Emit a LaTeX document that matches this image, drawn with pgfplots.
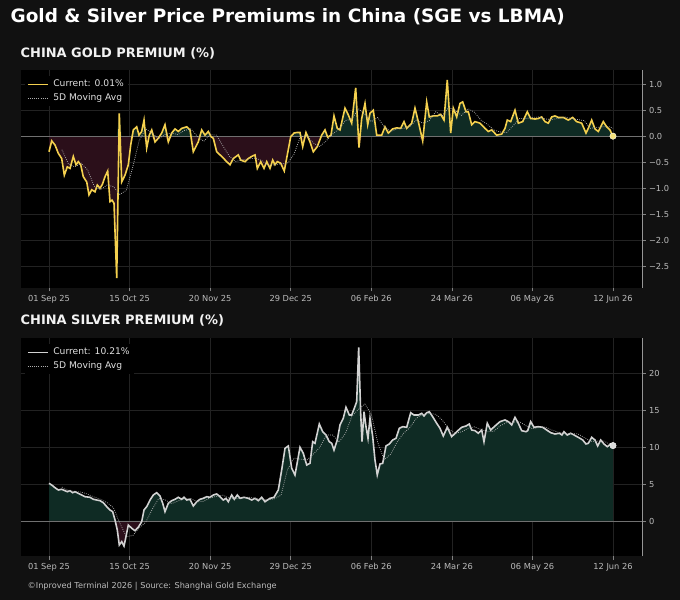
\documentclass[border=0pt]{standalone}
\usepackage{fontspec}
\setmainfont{DejaVu Sans}
\usepackage{xcolor}
\usepackage{pgfplots}
\usepackage{pgfplotstable}
\pgfplotsset{compat=1.18}
\definecolor{figbg}{HTML}{111111}
\definecolor{goldc}{HTML}{F4D04E}
\definecolor{goldm}{HTML}{F6E27A}
\definecolor{silvc}{HTML}{D2D2D2}
\definecolor{posfill}{HTML}{0F2B24}
\definecolor{negfill}{HTML}{2B0F1A}
\definecolor{gridc}{HTML}{222222}
\definecolor{zeroc}{HTML}{707070}
\definecolor{tickc}{HTML}{BBBBBB}
\definecolor{mac}{HTML}{AEAEAE}
\pagecolor{figbg}

\pgfplotstableread[row sep=\\]{
x y\\
0 -0.29\\ 0.84 -0.08\\ 1.86 -0.16\\ 2.89 -0.32\\ 3.94 -0.42\\ 4.75 -0.74\\ 5.68 -0.58\\ 6.52 -0.61\\ 7.54 -0.38\\ 8.38 -0.54\\ 9.09 -0.48\\ 9.84 -0.54\\ 10.64 -0.77\\ 11.70 -0.87\\ 12.41 -1.12\\ 13.25 -1.02\\ 14.27 -1.06\\ 14.99 -0.93\\ 15.82 -0.99\\ 16.54 -0.92\\ 17.38 -0.77\\ 18.21 -0.66\\ 18.93 -1.25\\ 19.55 -1.22\\ 20.17 -1.28\\ 21.01 -2.72\\ 21.81 0.45\\ 22.56 -0.87\\ 23.58 -0.74\\ 24.61 -0.54\\ 25.35 -0.16\\ 26.16 0.13\\ 27.21 0.19\\ 27.93 0.03\\ 28.76 0.10\\ 29.48 0.32\\ 30.31 -0.22\\ 31.12 0.03\\ 31.87 0.13\\ 32.89 -0.10\\ 33.91 -0.03\\ 34.97 0.07\\ 35.99 0.23\\ 37.02 -0.10\\ 38.07 0.07\\ 39.10 0.15\\ 40.12 0.10\\ 41.17 0.16\\ 42.73 0.19\\ 43.75 0.13\\ 44.77 -0.29\\ 46.32 -0.10\\ 47.38 0.13\\ 48.40 0.03\\ 49.43 0.10\\ 50.27 0.00\\ 50.98 -0.03\\ 52.03 -0.29\\ 53.58 -0.38\\ 55.14 -0.48\\ 56.16 -0.54\\ 57.18 -0.42\\ 58.74 -0.35\\ 59.48 -0.45\\ 60.81 -0.48\\ 61.84 -0.42\\ 62.89 -0.38\\ 63.92 -0.35\\ 64.63 -0.61\\ 65.69 -0.48\\ 66.71 -0.61\\ 67.55 -0.48\\ 68.57 -0.61\\ 69.41 -0.45\\ 70.12 -0.54\\ 70.84 -0.48\\ 71.89 -0.51\\ 73.00 -0.66\\ 73.94 -0.35\\ 75.00 0.00\\ 76.02 0.07\\ 76.86 0.08\\ 77.88 0.08\\ 78.72 -0.19\\ 79.74 0.08\\ 80.98 -0.10\\ 82.01 -0.29\\ 83.25 -0.19\\ 84.61 0.03\\ 85.64 0.13\\ 86.47 -0.01\\ 87.50 0.03\\ 88.43 0.40\\ 89.45 0.16\\ 90.29 0.13\\ 91.84 0.55\\ 92.87 0.42\\ 93.92 0.26\\ 95.16 0.94\\ 96.19 -0.21\\ 97.02 0.35\\ 98.05 0.64\\ 98.89 0.23\\ 99.60 0.45\\ 100.62 0.51\\ 101.68 0.03\\ 103.23 0.03\\ 104.25 0.19\\ 105.28 0.07\\ 106.64 0.15\\ 107.88 0.17\\ 109.12 0.16\\ 110.15 0.29\\ 110.99 0.16\\ 112.54 0.26\\ 113.56 0.55\\ 114.59 0.29\\ 115.95 -0.08\\ 117.19 0.67\\ 118.00 0.38\\ 119.24 0.40\\ 120.48 0.40\\ 121.53 0.43\\ 122.56 0.32\\ 123.58 1.09\\ 124.64 0.07\\ 125.45 0.55\\ 126.50 0.38\\ 127.52 0.64\\ 128.36 0.67\\ 129.39 0.48\\ 130.10 0.48\\ 131.15 0.23\\ 132.18 0.29\\ 133.73 0.26\\ 135.28 0.16\\ 136.30 0.10\\ 137.36 0.13\\ 138.91 0.03\\ 140.46 0.05\\ 141.49 0.16\\ 142.20 0.32\\ 143.26 0.29\\ 144.59 0.51\\ 145.62 0.26\\ 146.98 0.29\\ 148.41 0.48\\ 149.46 0.35\\ 150.80 0.34\\ 151.82 0.35\\ 152.87 0.38\\ 153.90 0.29\\ 154.92 0.26\\ 155.98 0.38\\ 157.00 0.40\\ 158.03 0.37\\ 159.58 0.37\\ 161.13 0.32\\ 162.49 0.37\\ 163.73 0.29\\ 165.29 0.26\\ 166.62 0.07\\ 167.33 0.16\\ 168.39 0.32\\ 169.41 0.15\\ 170.44 0.10\\ 171.99 0.29\\ 173.04 0.19\\ 174.06 0.13\\ 175 0.01\\
}\goldtbl

\pgfplotstableread[row sep=\\]{
x y\\
4 -0.25\\ 6 -0.52\\ 8 -0.58\\ 10 -0.51\\ 12 -0.64\\ 14 -0.95\\ 16 -1.02\\ 18 -0.93\\ 20 -0.96\\ 22 -1.11\\ 24 -1.03\\ 26 -0.58\\ 28 -0.07\\ 30 0.15\\ 32 0.07\\ 34 -0.04\\ 36 0.04\\ 38 0.07\\ 40 0.04\\ 42 0.12\\ 44 0.15\\ 46 0.01\\ 48 -0.09\\ 50 0.04\\ 52 0.03\\ 54 -0.18\\ 56 -0.38\\ 58 -0.48\\ 60 -0.44\\ 62 -0.43\\ 64 -0.41\\ 66 -0.46\\ 68 -0.55\\ 70 -0.54\\ 72 -0.52\\ 74 -0.51\\ 76 -0.34\\ 78 0.0\\ 80 0.02\\ 82 -0.12\\ 84 -0.19\\ 86 -0.08\\ 88 0.05\\ 90 0.15\\ 92 0.31\\ 94 0.34\\ 96 0.54\\ 98 0.43\\ 100 0.29\\ 102 0.37\\ 104 0.19\\ 106 0.10\\ 108 0.15\\ 110 0.16\\ 112 0.20\\ 114 0.32\\ 116 0.26\\ 118 0.31\\ 120 0.48\\ 122 0.40\\ 124 0.56\\ 126 0.51\\ 128 0.41\\ 130 0.54\\ 132 0.47\\ 134 0.32\\ 136 0.24\\ 138 0.13\\ 140 0.09\\ 142 0.08\\ 144 0.21\\ 146 0.35\\ 148 0.35\\ 150 0.37\\ 152 0.38\\ 154 0.34\\ 156 0.33\\ 158 0.35\\ 160 0.38\\ 162 0.35\\ 164 0.33\\ 166 0.31\\ 168 0.16\\ 170 0.18\\ 172 0.19\\ 174 0.19\\ 175 0.16\\
}\goldma

\pgfplotstableread[row sep=\\]{
x y\\
0 5.10\\ 0.84 4.87\\ 1.86 4.51\\ 2.89 4.20\\ 3.94 4.29\\ 4.96 4.10\\ 5.68 3.97\\ 6.52 4.10\\ 7.35 3.83\\ 8.07 3.97\\ 9.09 3.75\\ 10.15 3.52\\ 11.17 3.29\\ 12.72 3.21\\ 13.75 2.94\\ 14.80 2.84\\ 15.82 2.75\\ 16.85 2.48\\ 17.90 1.94\\ 18.93 1.49\\ 19.76 1.26\\ 20.48 0.14\\ 21.19 -1.22\\ 21.81 -3.25\\ 22.56 -2.80\\ 23.27 -3.39\\ 23.89 -2.12\\ 24.61 -0.54\\ 25.66 -0.99\\ 26.68 -1.31\\ 27.71 -0.85\\ 28.76 -0.09\\ 29.48 1.49\\ 30.31 1.94\\ 31.34 2.84\\ 32.36 3.52\\ 33.42 3.83\\ 34.44 3.39\\ 35.28 2.40\\ 35.99 1.26\\ 37.02 2.40\\ 38.07 2.75\\ 39.10 2.94\\ 40.12 3.21\\ 41.17 2.94\\ 41.89 3.21\\ 42.73 2.84\\ 43.75 2.94\\ 44.77 2.03\\ 45.83 2.61\\ 46.85 2.94\\ 47.88 3.07\\ 48.93 3.29\\ 49.95 3.21\\ 50.98 3.52\\ 52.03 3.66\\ 53.06 3.29\\ 54.08 2.84\\ 54.92 3.07\\ 55.63 2.61\\ 56.69 3.52\\ 57.50 2.94\\ 58.43 3.52\\ 59.26 3.07\\ 60.50 3.21\\ 61.84 3.07\\ 62.89 2.84\\ 63.92 3.07\\ 64.94 2.75\\ 66.00 3.21\\ 67.02 2.61\\ 68.57 3.07\\ 69.81 3.20\\ 71.15 4.20\\ 72.20 6.91\\ 73.23 9.84\\ 74.25 10.16\\ 75.31 7.13\\ 76.33 6.23\\ 77.88 9.98\\ 78.90 9.17\\ 79.96 7.58\\ 80.98 7.81\\ 81.82 10.74\\ 82.53 10.52\\ 83.87 13.13\\ 84.92 12.09\\ 85.95 11.65\\ 86.97 10.74\\ 87.72 10.52\\ 88.43 9.61\\ 89.45 10.97\\ 90.29 13.00\\ 91.31 13.91\\ 92.15 15.40\\ 93.18 14.35\\ 93.92 14.35\\ 94.73 15.26\\ 95.47 16.15\\ 96.09 23.52\\ 96.71 14.58\\ 97.12 10.74\\ 97.74 14.80\\ 98.36 12.77\\ 98.98 11.20\\ 99.60 13.91\\ 100.44 11.42\\ 101.15 8.26\\ 101.86 6.23\\ 102.70 7.72\\ 103.54 7.81\\ 104.56 10.16\\ 105.59 10.43\\ 106.64 10.97\\ 107.67 11.20\\ 108.69 12.55\\ 109.75 12.77\\ 110.99 12.69\\ 112.23 14.66\\ 113.25 14.35\\ 114.59 14.35\\ 115.64 14.58\\ 116.36 14.22\\ 117.19 14.66\\ 118.00 14.80\\ 119.05 14.12\\ 120.30 13.23\\ 121.32 12.55\\ 122.34 11.51\\ 123.58 12.69\\ 124.95 11.42\\ 126.50 12.09\\ 128.05 12.69\\ 129.39 12.86\\ 130.41 13.13\\ 131.15 12.32\\ 132.18 12.23\\ 133.20 11.88\\ 134.26 12.32\\ 134.97 10.74\\ 135.99 13.23\\ 137.05 12.32\\ 138.38 12.86\\ 139.94 13.45\\ 141.49 13.68\\ 142.51 13.45\\ 143.56 13.00\\ 144.59 14.04\\ 145.62 13.23\\ 146.67 12.23\\ 148.00 12.09\\ 148.53 12.23\\ 149.46 13.45\\ 150.49 12.69\\ 151.82 12.77\\ 153.18 12.69\\ 154.43 12.32\\ 155.67 11.96\\ 157.00 11.78\\ 158.34 11.88\\ 159.17 11.65\\ 159.79 12.09\\ 160.82 11.65\\ 161.87 11.88\\ 162.90 11.65\\ 164.23 11.33\\ 165.60 10.97\\ 166.62 10.43\\ 167.34 10.52\\ 168.39 11.33\\ 169.41 10.97\\ 170.25 10.16\\ 171.18 10.97\\ 172.20 10.43\\ 173.23 10.06\\ 174.28 10.43\\ 175 10.21\\
}\silvtbl

\pgfplotstableread[row sep=\\]{
x y\\
4 4.59\\ 6 4.14\\ 8 4.00\\ 10 3.91\\ 12 3.63\\ 14 3.24\\ 16 2.94\\ 18 2.50\\ 20 1.79\\ 22 -0.32\\ 24 -2.11\\ 26 -1.97\\ 28 -0.92\\ 30 -0.19\\ 32 1.55\\ 34 3.03\\ 36 2.88\\ 38 2.36\\ 40 2.70\\ 42 3.01\\ 44 3.03\\ 46 2.60\\ 48 2.66\\ 50 3.13\\ 52 3.34\\ 54 3.49\\ 56 3.09\\ 58 3.00\\ 60 3.13\\ 62 3.22\\ 64 3.05\\ 66 2.97\\ 68 2.86\\ 70 3.02\\ 72 3.49\\ 74 6.98\\ 76 8.51\\ 78 8.38\\ 80 8.24\\ 82 9.06\\ 84 9.96\\ 86 11.63\\ 88 11.63\\ 90 10.70\\ 92 11.87\\ 94 14.20\\ 96 15.10\\ 98 15.84\\ 100 14.50\\ 102 10.63\\ 104 8.29\\ 106 9.03\\ 108 10.69\\ 110 11.87\\ 112 12.67\\ 114 13.90\\ 116 14.49\\ 118 14.52\\ 120 14.45\\ 122 13.68\\ 124 12.50\\ 126 11.87\\ 128 12.07\\ 130 12.55\\ 132 12.75\\ 134 12.39\\ 136 12.08\\ 138 12.15\\ 140 12.88\\ 142 13.33\\ 144 13.38\\ 146 13.43\\ 148 12.90\\ 150 12.50\\ 152 12.65\\ 154 12.72\\ 156 12.32\\ 158 12.02\\ 160 11.85\\ 162 11.83\\ 164 11.82\\ 166 11.32\\ 168 10.81\\ 170 10.81\\ 172 10.86\\ 174 10.41\\ 175 10.43\\
}\silvma

\pgfplotsset{
  premium/.style={
    width=621bp, height=218bp, scale only axis,
    xmin=-8.69, xmax=184.0,
    axis background/.style={fill=black},
    axis line style={draw=none},
    xtick={0,25,50,75,100,125,150,175},
    xticklabels={01 Sep 25,15 Oct 25,20 Nov 25,29 Dec 25,06 Feb 26,24 Mar 26,06 May 26,12 Jun 26},
    xtick pos=left, ytick pos=right, yticklabel pos=right,
    tick align=outside, major tick length=3.5bp,
    tick style={draw=tickc!70!black, line width=0.6bp},
    ticklabel style={text=tickc, font=\fontsize{8.3}{10}\selectfont},
    grid=major, major grid style={draw=gridc, line width=0.5bp},
    legend cell align=left,
    legend style={at={(rel axis cs:0,1)}, anchor=north west, xshift=4bp, yshift=-6bp,
      draw=none, fill=black, text=white!88!black,
      font=\fontsize{9.2}{11}\selectfont, inner sep=2bp, row sep=1.2bp, column sep=2bp},
    legend image code/.code={\draw[##1] (0bp,0bp) -- (20.5bp,0bp);},
    after end axis/.code={\draw[tickc!80!black, line width=0.8bp] (rel axis cs:1,0) -- (rel axis cs:1,1);},
  },
  mainline/.style={line width=1.6bp},
  maline/.style={mac, line width=0.75bp, dash pattern=on 0.8bp off 1.3bp},
  posarea/.style={fill=posfill, draw=none, forget plot, y filter/.expression={max(y,0)}},
  negarea/.style={fill=negfill, draw=none, forget plot, y filter/.expression={min(y,0)}},
}

\begin{document}
\begin{tikzpicture}
\path (0,0) rectangle (680bp,600bp);
\node[anchor=base west, inner sep=0, text=white, font=\bfseries\fontsize{18.5}{20}\selectfont] at (10.5bp,577.3bp) {Gold \& Silver Price Premiums in China (SGE vs LBMA)};
\node[anchor=base west, inner sep=0, text=white!95!black, font=\bfseries\fontsize{13}{15}\selectfont] at (20.5bp,542.7bp) {CHINA GOLD PREMIUM (\%)};
\node[anchor=base west, inner sep=0, text=white!95!black, font=\bfseries\fontsize{13}{15}\selectfont] at (20.5bp,275bp) {CHINA SILVER PREMIUM (\%)};
\node[anchor=base west, inner sep=0, text=tickc, font=\fontsize{8.2}{10}\selectfont] at (27.5bp,11.7bp) {©Inproved Terminal 2026 | Source: Shanghai Gold Exchange};

% ---------------- GOLD ----------------
\begin{axis}[premium, at={(21bp,312bp)}, anchor=south west,
  ymin=-2.91, ymax=1.283,
  ytick={-2.5,-2,-1.5,-1,-0.5,0,0.5,1},
  yticklabels={−2.5,−2.0,−1.5,−1.0,−0.5,0.0,0.5,1.0}]
\addplot[posarea] table {\goldtbl} \closedcycle;
\addplot[negarea] table {\goldtbl} \closedcycle;
\addplot[zeroc, line width=0.8bp, forget plot] coordinates {(-8.69,0) (184,0)};
\addplot[goldc, mainline] table {\goldtbl};
\addlegendentry{Current: 0.01\%}
\addplot[maline] table {\goldma};
\addlegendentry{5D Moving Avg}
\addplot[only marks, mark=*, mark size=3.2bp, mark options={fill=goldm, draw=white!90!goldm, line width=0.4bp}, forget plot] coordinates {(175,0.01)};
\end{axis}

% ---------------- SILVER ----------------
\begin{axis}[premium, at={(21bp,44bp)}, anchor=south west,
  ymin=-4.74, ymax=24.78,
  ytick={0,5,10,15,20}, yticklabels={0,5,10,15,20}]
\addplot[posarea] table {\silvtbl} \closedcycle;
\addplot[negarea] table {\silvtbl} \closedcycle;
\addplot[zeroc, line width=0.8bp, forget plot] coordinates {(-8.69,0) (184,0)};
\addplot[silvc, mainline] table {\silvtbl};
\addlegendentry{Current: 10.21\%}
\addplot[maline] table {\silvma};
\addlegendentry{5D Moving Avg}
\addplot[only marks, mark=*, mark size=3.2bp, mark options={fill=silvc!80!white, draw=white, line width=0.4bp}, forget plot] coordinates {(175,10.21)};
\end{axis}
\end{tikzpicture}
\end{document}
